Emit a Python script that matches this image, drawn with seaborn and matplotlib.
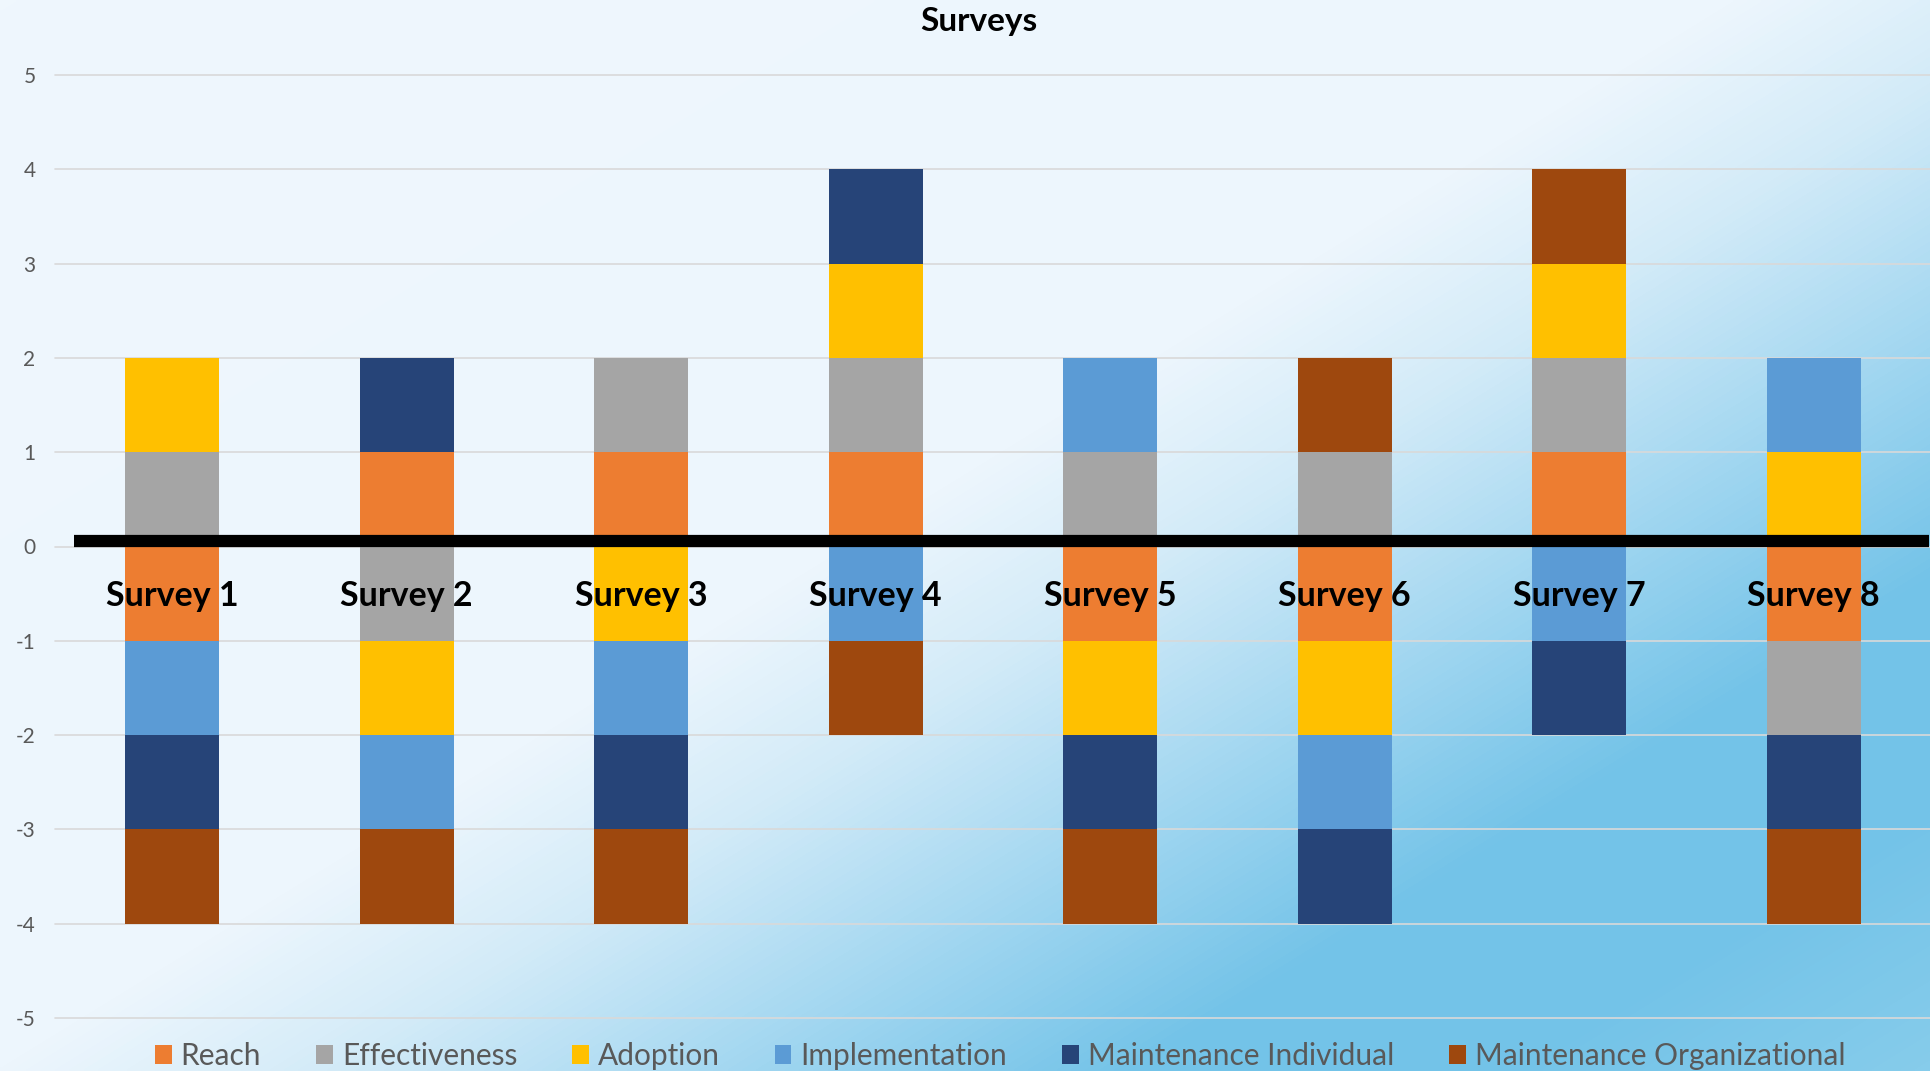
import numpy as np
import pandas as pd
import matplotlib
matplotlib.use("Agg")
import matplotlib.pyplot as plt
from matplotlib.colors import LinearSegmentedColormap, to_rgb
from matplotlib.patches import Patch
import seaborn as sns

# ---- data ----
surveys = ["Survey 1", "Survey 2", "Survey 3", "Survey 4",
           "Survey 5", "Survey 6", "Survey 7", "Survey 8"]
series = ["Reach", "Effectiveness", "Adoption", "Implementation",
          "Maintenance Individual", "Maintenance Organizational"]
reach          = [-1,  1,  1,  1, -1, -1,  1, -1]
effectiveness  = [ 1, -1,  1,  1,  1,  1,  1, -1]
adoption       = [ 1, -1, -1,  1, -1, -1,  1,  1]
implementation = [-1, -1, -1, -1,  1, -1, -1,  1]
maint_indiv    = [-1,  1, -1,  1, -1, -1, -1, -1]
maint_org      = [-1, -1, -1, -1, -1,  1,  1, -1]
values = [reach, effectiveness, adoption, implementation, maint_indiv, maint_org]
colors = ["#ED7D31", "#A5A5A5", "#FFC000", "#5B9BD5", "#264478", "#9E480E"]
yticks = [-5, -4, -3, -2, -1, 0, 1, 2, 3, 4, 5]
title = "Surveys"

sns.set_theme(style="white")
plt.rcParams["font.family"] = ["Lato", "DejaVu Sans"]

W, H = 1931, 1071
fig = plt.figure(figsize=(W / 100, H / 100), dpi=100)

# ---- gradient background ----
bg = fig.add_axes([0, 0, 1, 1], zorder=-10)
xx, yy = np.meshgrid(np.linspace(0, 1, 600), np.linspace(0, 1, 340))
t = xx + 0.9 * yy
stops = [(0.0, "#EFF7FD"), (0.9, "#EDF6FD"), (1.07, "#D3EBF8"),
         (1.27, "#A5D8F1"), (1.49, "#73C3E8"), (1.68, "#73C3E8"), (1.9, "#86CCEB")]
tmax = 1.9
cmap = LinearSegmentedColormap.from_list(
    "bg", [(p / tmax, to_rgb(c)) for p, c in stops])
bg.imshow(t / tmax, cmap=cmap, vmin=0, vmax=1, aspect="auto",
          extent=[0, 1, 1, 0], interpolation="bilinear")
bg.set_xlim(0, 1); bg.set_ylim(1, 0)
bg.axis("off")

# ---- main axes ----
left = 55 / W
bottom = 1 - 1018 / H
top = 1 - 75 / H
ax = fig.add_axes([left, bottom, 1 - left, top - bottom])
ax.set_facecolor("none")

vals = np.array(values, dtype=float)
pos = np.clip(vals, 0, None)
neg = np.clip(vals, None, 0)
cum_pos = np.cumsum(pos, axis=0)
cum_neg = np.cumsum(neg, axis=0)

for i in range(len(series) - 1, -1, -1):
    df = pd.DataFrame({"survey": surveys, "pos": cum_pos[i], "neg": cum_neg[i]})
    sns.barplot(data=df, x="survey", y="pos", color=colors[i], width=0.4,
                saturation=1, errorbar=None, linewidth=0, ax=ax, zorder=3)
    sns.barplot(data=df, x="survey", y="neg", color=colors[i], width=0.4,
                saturation=1, errorbar=None, linewidth=0, ax=ax, zorder=3)

ax.set_xlim(-0.5, len(surveys) - 0.5)
ax.set_ylim(-5, 5)
ax.set_yticks(yticks)
ax.set_yticklabels([str(v) for v in yticks], color="#595959", fontsize=15)
ax.tick_params(axis="y", length=0, pad=14)
ax.set_xticks([])
ax.set_xlabel("")
ax.set_ylabel("")
for s in ax.spines.values():
    s.set_visible(False)

for v in yticks:
    ax.axhline(v, color="#D9D9D9", lw=1.2, zorder=1, clip_on=False)

# thick zero line
ax.plot([-0.42, len(surveys) - 0.51], [0.055, 0.055], color="black", lw=8.8,
        solid_capstyle="butt", zorder=5, clip_on=False)

for i, s in enumerate(surveys):
    ax.text(i, -0.53, s, ha="center", va="center", fontsize=24.5,
            fontweight="bold", color="black", zorder=6)

fig.text(0.507, 1 - 22 / H, title, ha="center", va="center", fontsize=24,
         fontweight="bold", color="black")

handles = [Patch(facecolor=c, edgecolor="none", label=s) for s, c in zip(series, colors)]
fig.legend(handles=handles, loc="center", bbox_to_anchor=(0.518, 1 - 1056 / H),
           ncol=6, frameon=False, fontsize=21.5, handlelength=0.55, handleheight=0.6,
           handletextpad=0.3, columnspacing=1.85, labelcolor="#595959")

fig.savefig("out.png", dpi=100)
